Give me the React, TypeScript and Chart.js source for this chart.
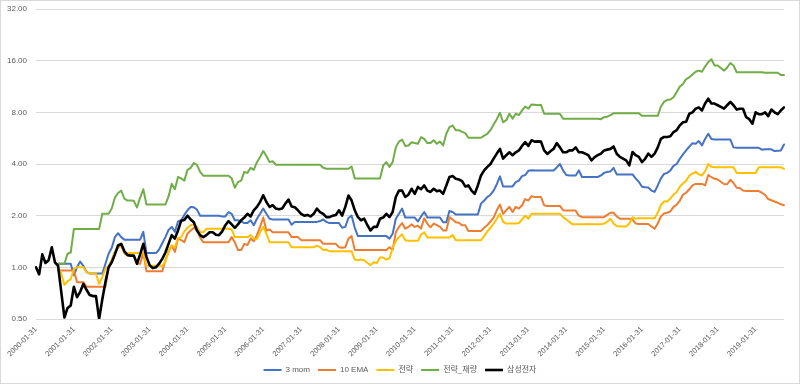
import React, { useEffect, useRef } from "react";
import { Chart, registerables } from "chart.js";

Chart.register(...registerables);

const START_YEAR = 2000;
const MONTH_COUNT = 238;
const Y_TICKS = [0.5, 1, 2, 4, 8, 16, 32];

const SERIES_NAMES = ["3 mom", "10 EMA", "전략", "전략_재량", "삼성전자"];
const SERIES_COLORS = ["#4472C4", "#ED7D31", "#FFC000", "#70AD47", "#000000"];

function buildMonthEndLabels(): string[] {
  const out: string[] = [];
  for (let i = 0; i < MONTH_COUNT; i++) {
    const y = START_YEAR + Math.floor(i / 12);
    const m = (i % 12) + 1;
    const d = new Date(Date.UTC(y, m, 0)).getUTCDate();
    out.push(`${y}-${String(m).padStart(2, "0")}-${String(d).padStart(2, "0")}`);
  }
  return out;
}
const CATEGORIES = buildMonthEndLabels();

const MOM3 = [
  null, null, null, null, null, null, null, 1.05, 1.05, 1.05,
  1.05, 1.05, 0.9, 1.0, 1.08, 1.02, 0.94, 0.92, 0.92, 0.92,
  0.92, 0.92, 1.05, 1.2, 1.3, 1.5, 1.58, 1.5, 1.45, 1.45,
  1.45, 1.45, 1.45, 1.45, 1.61, 1.21, 1.21, 1.21, 1.21, 1.27,
  1.38, 1.5, 1.65, 1.72, 1.61, 1.85, 1.88, 2.02, 2.15, 2.25,
  2.24, 2.17, 2.0, 2.0, 2.0, 2.0, 2.0, 2.0, 2.0, 1.98,
  1.98, 2.1, 2.05, 1.88, 1.88, 1.85, 1.81, 1.81, 1.88, 1.76,
  1.92, 2.05, 2.2, 2.05, 1.92, 1.9, 1.9, 1.9, 1.9, 1.9,
  1.9, 1.77, 1.84, 1.84, 1.84, 1.84, 1.84, 1.84, 1.84, 1.84,
  1.86, 1.9, 1.84, 1.81, 1.81, 1.81, 1.81, 1.7, 1.72, 1.94,
  2.0, 1.7, 1.52, 1.52, 1.52, 1.52, 1.52, 1.52, 1.52, 1.52,
  1.52, 1.52, 1.47, 1.57, 1.92, 2.05, 2.2, 1.95, 1.95, 1.95,
  1.95, 1.85, 1.98, 2.1, 1.95, 1.95, 1.95, 1.95, 1.95, 1.83,
  1.83, 2.13, 2.1, 2.03, 2.03, 2.03, 2.03, 2.03, 2.03, 2.03,
  2.03, 2.35, 2.45, 2.57, 2.65, 2.8, 3.05, 3.39, 2.96, 2.96,
  2.96, 2.96, 3.14, 3.2, 3.4, 3.45, 3.65, 3.68, 3.67, 3.67,
  3.67, 3.67, 3.67, 3.67, 3.67, 3.82, 4.0, 3.67, 3.45, 3.43,
  3.43, 3.43, 3.67, 3.36, 3.36, 3.36, 3.36, 3.36, 3.36, 3.43,
  3.55, 3.6, 3.62, 3.8, 3.48, 3.48, 3.48, 3.48, 3.48, 3.48,
  3.3, 3.15, 2.95, 2.93, 2.92, 2.8, 2.75, 3.0, 3.3, 3.5,
  3.55, 3.67, 3.9, 4.0, 4.29, 4.55, 4.8, 5.05, 5.28, 5.25,
  5.44, 5.13, 5.6, 6.0, 5.6, 5.55, 5.55, 5.55, 5.55, 5.55,
  5.55, 5.0, 4.97, 4.97, 4.97, 4.97, 4.97, 4.97, 4.97, 4.97,
  4.85, 4.87, 4.88, 4.87, 4.76, 4.78, 4.8, 5.2,
];

const EMA10 = [
  null, null, null, null, null, null, null, 0.96, 0.96, 0.96,
  0.96, 0.96, 0.96, 0.82, 0.82, 0.82, 0.77, 0.77, 0.77, 0.77,
  0.77, 0.77, 0.77, 1.0, 1.1, 1.23, 1.31, 1.34, 1.21, 1.17,
  1.17, 1.17, 1.05, 1.05, 1.22, 0.95, 0.95, 0.95, 0.95, 0.95,
  0.95, 1.1, 1.23, 1.34, 1.23, 1.47, 1.44, 1.4, 1.57, 1.64,
  1.7, 1.66, 1.49, 1.4, 1.4, 1.4, 1.4, 1.4, 1.4, 1.4,
  1.4, 1.4, 1.5, 1.4, 1.26, 1.26, 1.37, 1.35, 1.47, 1.42,
  1.54, 1.72, 1.95, 1.64, 1.66, 1.6, 1.6, 1.6, 1.6, 1.6,
  1.6, 1.5, 1.5, 1.5, 1.44, 1.44, 1.44, 1.44, 1.44, 1.44,
  1.44, 1.37, 1.37, 1.37, 1.37, 1.37, 1.31, 1.3, 1.31, 1.47,
  1.52, 1.26, 1.26, 1.26, 1.26, 1.26, 1.26, 1.26, 1.26, 1.26,
  1.26, 1.26, 1.31, 1.26, 1.6, 1.72, 1.81, 1.68, 1.72, 1.78,
  1.72, 1.75, 1.68, 1.93, 1.8, 1.71, 1.8, 1.76, 1.72, 1.64,
  1.64, 1.96, 1.9, 1.83, 1.82, 1.76, 1.76, 1.63, 1.63, 1.63,
  1.63, 1.63, 1.7, 1.76, 1.85, 1.95, 2.15, 2.32, 2.05, 2.15,
  2.25, 2.1, 2.25, 2.2, 2.3, 2.5, 2.45, 2.6, 2.57, 2.57,
  2.57, 2.3, 2.28, 2.28, 2.28, 2.28, 2.28, 2.15, 2.14, 2.14,
  2.14, 2.14, 2.0, 1.96, 1.96, 1.96, 1.96, 1.96, 1.96, 1.96,
  1.96, 2.02, 2.08, 2.08, 1.98, 1.92, 1.92, 1.92, 1.92, 1.9,
  1.8, 1.79, 1.79, 1.79, 1.79, 1.73, 1.68, 1.8, 1.98, 2.06,
  2.08, 2.12, 2.25, 2.32, 2.45, 2.65, 2.72, 2.85, 3.0, 3.06,
  3.06, 3.06, 3.0, 3.45, 3.35, 3.28, 3.25, 3.15, 3.06, 3.05,
  3.24, 3.1, 2.91, 2.9, 2.8, 2.78, 2.78, 2.78, 2.78, 2.78,
  2.72, 2.64, 2.5, 2.46, 2.42, 2.38, 2.33, 2.3,
];

const STRATEGY = [
  null, null, null, null, null, null, null, 1.0, 0.92, 0.79,
  0.83, 0.85, 0.98, 1.0, 1.0, 1.0, 0.94, 0.92, 0.92, 0.92,
  0.8, 0.88, 0.98, 1.02, 1.1, 1.23, 1.3, 1.34, 1.22, 1.21,
  1.21, 1.21, 1.21, 1.21, 1.21, 1.02, 1.02, 1.02, 1.02, 1.02,
  1.02, 1.08, 1.24, 1.34, 1.31, 1.48, 1.5, 1.62, 1.7, 1.76,
  1.78, 1.72, 1.6, 1.6, 1.68, 1.68, 1.68, 1.68, 1.68, 1.68,
  1.68, 1.68, 1.66, 1.5, 1.5, 1.5, 1.5, 1.5, 1.54, 1.47,
  1.46, 1.6, 1.72, 1.57, 1.4, 1.4, 1.4, 1.4, 1.4, 1.4,
  1.4, 1.31, 1.31, 1.31, 1.31, 1.31, 1.31, 1.31, 1.31, 1.34,
  1.31, 1.26, 1.27, 1.24, 1.24, 1.24, 1.24, 1.24, 1.24, 1.24,
  1.24, 1.11, 1.1, 1.11, 1.1, 1.06, 1.03, 1.07, 1.06, 1.14,
  1.14, 1.11, 1.13, 1.3, 1.42, 1.5, 1.56, 1.44, 1.43, 1.43,
  1.43, 1.43, 1.55, 1.6, 1.49, 1.49, 1.49, 1.49, 1.49, 1.49,
  1.49, 1.49, 1.54, 1.44, 1.44, 1.44, 1.44, 1.44, 1.44, 1.44,
  1.44, 1.44, 1.52, 1.62, 1.7, 1.8, 1.92, 2.05, 1.84, 1.8,
  1.8, 1.8, 1.8, 1.81, 1.9, 2.0, 1.92, 2.05, 2.05, 2.05,
  2.05, 2.05, 2.05, 2.05, 2.05, 2.05, 2.05, 1.96, 1.9, 1.84,
  1.78, 1.78, 1.78, 1.78, 1.78, 1.78, 1.78, 1.78, 1.78, 1.78,
  1.8, 1.84, 1.92, 1.8, 1.74, 1.73, 1.73, 1.73, 1.8, 1.96,
  1.92, 1.93, 1.93, 1.93, 1.93, 1.93, 1.93, 2.08, 2.3, 2.42,
  2.42, 2.52, 2.65, 2.75, 2.95, 3.08, 3.2, 3.42, 3.52, 3.6,
  3.48, 3.43, 3.62, 4.0, 3.85, 3.83, 3.83, 3.83, 3.83, 3.83,
  3.83, 3.83, 3.55, 3.55, 3.55, 3.55, 3.55, 3.55, 3.55, 3.83,
  3.83, 3.83, 3.83, 3.83, 3.83, 3.83, 3.83, 3.75,
];

const STRATEGY_DISCRETION = [
  null, null, null, null, null, null, null, 1.05, 1.05, 1.05,
  1.2, 1.22, 1.67, 1.67, 1.67, 1.67, 1.67, 1.67, 1.67, 1.67,
  1.67, 2.05, 2.05, 2.05, 2.2, 2.55, 2.71, 2.8, 2.51, 2.45,
  2.45, 2.44, 2.23, 2.55, 2.85, 2.32, 2.32, 2.32, 2.32, 2.32,
  2.32, 2.32, 2.59, 3.07, 2.85, 3.36, 3.3, 3.2, 3.7, 3.8,
  4.05, 3.95, 3.6, 3.42, 3.42, 3.42, 3.42, 3.42, 3.42, 3.42,
  3.42, 3.42, 3.3, 2.91, 3.14, 3.2, 3.6, 3.55, 3.8, 3.7,
  4.1, 4.4, 4.76, 4.45, 4.1, 4.15, 3.96, 3.96, 3.96, 3.96,
  3.96, 3.96, 3.96, 3.96, 3.96, 3.96, 3.96, 3.96, 3.96, 3.96,
  3.96, 3.8, 3.75, 3.75, 3.75, 3.75, 3.75, 3.75, 3.75, 3.75,
  3.87, 3.29, 3.29, 3.29, 3.29, 3.29, 3.29, 3.29, 3.29, 3.29,
  3.92, 4.1, 3.85, 4.1, 5.0, 5.4, 5.55, 5.1, 5.13, 5.36,
  5.3, 5.25, 5.74, 5.6, 5.3, 5.3, 5.5, 5.25, 5.4, 5.13,
  6.0, 6.56, 6.7, 6.3, 6.3, 6.15, 6.05, 5.69, 5.69, 5.69,
  5.69, 5.69, 5.85, 6.0, 6.3, 6.8, 7.3, 7.95, 7.0, 7.2,
  7.85, 7.35, 7.85, 7.7, 8.2, 8.65, 8.4, 8.9, 8.85, 8.8,
  8.85, 7.85, 7.85, 7.85, 7.85, 7.85, 7.85, 7.35, 7.35, 7.35,
  7.35, 7.35, 7.35, 7.35, 7.35, 7.35, 7.35, 7.35, 7.35, 7.3,
  7.5, 7.55, 7.7, 7.9, 7.9, 7.9, 7.9, 7.9, 7.9, 7.9,
  7.9, 7.9, 7.63, 7.63, 7.63, 7.63, 7.63, 7.63, 8.65, 9.2,
  9.46, 9.5, 9.8, 10.5, 11.3, 11.7, 12.5, 12.8, 13.3, 13.8,
  14.0, 13.8, 14.8, 15.7, 16.3, 15.0, 15.0, 14.5, 14.0, 14.6,
  15.5, 15.0, 13.7, 13.7, 13.7, 13.7, 13.7, 13.7, 13.7, 13.7,
  13.7, 13.6, 13.6, 13.6, 13.6, 13.6, 13.2, 13.2,
];

const SAMSUNG = [
  1.0, 0.91, 1.19, 1.06, 1.1, 1.31, 1.07, 1.02, 0.72, 0.51,
  0.58, 0.6, 0.77, 0.67, 0.72, 0.8, 0.74, 0.69, 0.68, 0.68,
  0.5, 0.65, 0.82, 1.0, 1.07, 1.19, 1.34, 1.37, 1.24, 1.18,
  1.17, 1.17, 1.05, 1.19, 1.37, 1.15, 1.03, 0.99, 1.0, 1.05,
  1.12, 1.22, 1.37, 1.54, 1.47, 1.64, 1.87, 1.89, 2.0, 1.9,
  1.83, 1.64, 1.54, 1.5, 1.54, 1.6, 1.6, 1.55, 1.54, 1.62,
  1.76, 1.86, 1.78, 1.7, 1.78, 1.88, 1.95, 2.05, 1.98, 2.15,
  2.25, 2.4, 2.63, 2.4, 2.25, 2.3, 2.2, 2.18, 2.2, 2.35,
  2.48, 2.26, 2.24, 2.15, 2.05, 2.0, 2.02, 1.98, 2.05, 2.2,
  2.1, 2.05, 1.96, 1.96, 2.0, 2.02, 2.15, 2.0, 2.25, 2.62,
  2.45, 2.15, 1.96, 1.88, 1.92, 1.76, 1.64, 1.72, 1.72, 1.92,
  1.95, 2.05, 1.96, 2.1, 2.57, 2.8, 2.8, 2.57, 2.65, 2.87,
  2.68, 2.94, 2.85, 3.0, 2.8, 2.75, 2.87, 2.78, 2.8, 2.68,
  3.0, 3.36, 3.4, 3.28, 3.25, 3.18, 2.96, 3.0, 2.8, 2.68,
  3.0, 3.43, 3.67, 3.85, 4.0, 4.3, 4.6, 4.9, 4.3, 4.5,
  4.68, 4.5, 4.68, 4.8, 5.1, 5.36, 5.1, 5.5, 5.4, 5.42,
  5.4, 4.8, 4.58, 4.75, 4.9, 5.3, 5.0, 4.68, 4.68, 4.8,
  4.8, 5.0, 4.68, 4.68, 4.6, 4.5, 4.2, 4.39, 4.5, 4.6,
  4.8, 4.85, 4.9, 5.06, 4.59, 4.4, 4.3, 4.2, 3.93, 4.7,
  4.5, 4.4, 4.1, 4.29, 4.6, 4.4, 4.59, 5.0, 5.6, 5.75,
  5.75, 5.8, 6.14, 6.3, 6.72, 7.0, 7.05, 7.85, 8.0, 8.4,
  8.55, 8.2, 9.0, 9.6, 9.0, 9.0, 8.8, 8.6, 8.4, 8.8,
  9.2, 8.8, 8.3, 8.4, 8.4, 7.5, 7.3, 6.87, 8.0, 7.8,
  7.8, 8.0, 7.6, 8.3, 8.0, 7.8, 8.2, 8.55,
];

const SERIES_DATA = [MOM3, EMA10, STRATEGY, STRATEGY_DISCRETION, SAMSUNG];
const SERIES_WIDTHS = [2, 2, 2, 2, 2.6];

const FONT_FAMILY = "'Liberation Sans', 'Noto Sans CJK KR', sans-serif";
const TEXT_COLOR = "#595959";
const GRID_COLOR = "#d9d9d9";

export default function App() {
  const canvasRef = useRef<HTMLCanvasElement | null>(null);

  useEffect(() => {
    document.body.style.margin = "0";
    const canvas = canvasRef.current;
    if (!canvas) return;
    const datasets = SERIES_NAMES.map((name, i) => ({
      label: name,
      data: SERIES_DATA[i],
      yAxisID: "y",
      borderColor: SERIES_COLORS[i],
      backgroundColor: SERIES_COLORS[i],
      pointBorderColor: SERIES_COLORS[i],
      pointBackgroundColor: SERIES_COLORS[i],
      borderWidth: SERIES_WIDTHS[i],
      pointBorderWidth: SERIES_WIDTHS[i],
      pointRadius: 0,
      pointHoverRadius: 0,
      tension: 0,
      fill: false,
      borderJoinStyle: "round" as const,
      borderCapStyle: "round" as const,
      order: SERIES_NAMES.length - i,
    }));

    const chart = new Chart(canvas, {
      type: "line",
      data: { labels: CATEGORIES, datasets },
      options: {
        responsive: false,
        animation: false,
        events: [],
        layout: { padding: { left: 0, right: 0, top: 9, bottom: 0 } },
        plugins: {
          legend: {
            position: "bottom",
            labels: {
              usePointStyle: true,
              pointStyle: "line",
              pointStyleWidth: 18,
              padding: 8,
              color: TEXT_COLOR,
              font: { size: 8, family: FONT_FAMILY },
              sort: (a: any, b: any) => a.datasetIndex - b.datasetIndex,
            },
          },
          tooltip: { enabled: false },
        },
        scales: {
          x: {
            type: "category",
            offset: false,
            grid: { display: false, drawTicks: false },
            border: { display: false },
            ticks: {
              autoSkip: false,
              maxRotation: 45,
              minRotation: 45,
              padding: 6,
              color: TEXT_COLOR,
              font: { size: 7.5, family: FONT_FAMILY },
              callback: function (this: any, value: any, index: number) {
                return index % 12 === 0 ? this.getLabelForValue(value) : null;
              },
            },
            afterFit: (scale: any) => {
              scale.height = 39;
            },
          },
          y: {
            type: "logarithmic",
            position: "left",
            min: 0.5,
            max: 32,
            afterBuildTicks: (scale: any) => {
              scale.ticks = Y_TICKS.map((v) => ({ value: v }));
            },
            grid: {
              color: GRID_COLOR,
              drawTicks: true,
              tickLength: 6,
              tickColor: "rgba(0,0,0,0)",
              lineWidth: 1,
            },
            border: { display: false },
            ticks: {
              padding: 3,
              color: TEXT_COLOR,
              font: { size: 8, family: FONT_FAMILY },
              callback: (v: any) => Number(v).toFixed(2),
            },
            afterFit: (scale: any) => {
              scale.width = 36;
            },
          },
          yRightSpacer: {
            type: "linear",
            position: "right",
            display: true,
            grid: { display: false, drawTicks: false },
            border: { display: false },
            ticks: { display: false },
            afterFit: (scale: any) => {
              scale.width = 16;
            },
          },
        },
      },
    } as any);

    return () => chart.destroy();
  }, []);

  return (
    <div
      style={{
        position: "fixed",
        left: 0,
        top: 0,
        width: 800,
        height: 384,
        background: "#ffffff",
      }}
    >
      <canvas ref={canvasRef} width={800} height={384} style={{ display: "block" }} />
      <div
        style={{
          position: "absolute",
          inset: 0,
          border: "1px solid #d9d9d9",
          pointerEvents: "none",
        }}
      />
    </div>
  );
}
